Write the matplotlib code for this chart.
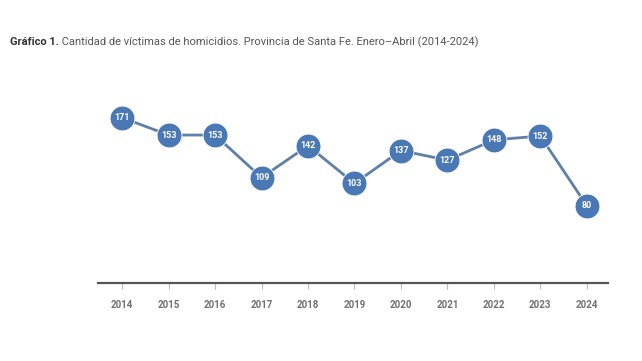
import matplotlib
matplotlib.use("Agg")
from matplotlib import pyplot as plt

years = [2014, 2015, 2016, 2017, 2018, 2019, 2020, 2021, 2022, 2023, 2024]
victims = [171, 153, 153, 109, 142, 103, 137, 127, 148, 152, 80]

blue = '#4a78b4'
line_col = '#5d7fa8'
grey = '#707070'

fig = plt.figure(figsize=(6.42, 3.61), dpi=100)
ax = fig.add_axes([0.1526, 0.216, 0.794, 0.576])

ax.plot(years, victims, color=line_col, lw=2, zorder=2)
ax.scatter(years, victims, s=320, color=blue, edgecolor='white', linewidth=0.6, zorder=3)
for x, y in zip(years, victims):
    ax.text(x, y, str(y), ha='center', va='center', color='white',
            fontsize=6.5, fontweight='bold', family='Roboto', zorder=4)

ax.set_xlim(2013.48, 2024.45)
ax.set_ylim(0, 215)
ax.set_xticks(years)
ax.set_xticklabels([str(y) for y in years], fontsize=7, fontweight='bold',
                   color=grey, family='Roboto')
ax.tick_params(axis='x', length=4, color='#bbbbbb', pad=8)
ax.set_yticks([])
for s in ['top', 'right', 'left']:
    ax.spines[s].set_visible(False)
ax.spines['bottom'].set_color('#555555')
ax.spines['bottom'].set_linewidth(1.6)

# title: bold prefix + regular text on the same baseline
ty = 1 - 45 / 361
t1 = fig.text(10 / 642, ty, 'Gráfico 1.', fontsize=8, fontweight='bold',
              color='#333333', family='Roboto', va='baseline')
fig.canvas.draw()
bb = t1.get_window_extent().transformed(fig.transFigure.inverted())
fig.text(bb.x1, ty, ' Cantidad de víctimas de homicidios. Provincia de Santa Fe. Enero–Abril (2014-2024)',
         fontsize=8, color='#555555', family='Roboto', va='baseline')

fig.savefig('out.png', dpi=100)
